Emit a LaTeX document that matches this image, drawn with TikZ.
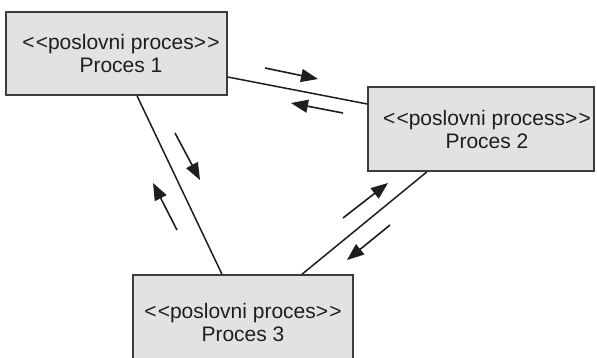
\documentclass[tikz,border=0pt]{standalone}
\usepackage{fontspec}
\setmainfont{Liberation Sans}
\usetikzlibrary{arrows.meta}
\definecolor{boxfill}{RGB}{226,226,228}
\definecolor{boxline}{RGB}{60,60,60}
\definecolor{ink}{RGB}{30,30,30}
\newcommand{\stereo}[1]{<\kern1.2pt<#1>\kern1.2pt>}
\begin{document}
\begin{tikzpicture}[x=1pt,y=-1pt,
  procbox/.style={draw=boxline, fill=boxfill, line width=1.5pt, rectangle,
    inner sep=0pt, align=center, text=ink,
    font=\fontsize{21}{23}\selectfont},
  link/.style={draw=ink, line width=1.5pt},
  flow/.style={draw=ink, line width=1.6pt,
    -{Triangle[length=17pt,width=13pt]}}]
  \useasboundingbox (0,0) rectangle (597,357);
  \clip (0,0) rectangle (597,357);
  \fill[white] (0,0) rectangle (597,357);

  % business process boxes
  \node[procbox, minimum width=221pt, minimum height=83pt] (b1) at (116.5,53.5)
    {\hspace*{9pt}\stereo{poslovni proces}\\\hspace*{9pt}Proces 1};
  \node[procbox, minimum width=226pt, minimum height=84pt] (b2) at (481,129)
    {\hspace*{12pt}\stereo{poslovni process}\\\hspace*{12pt}Proces 2};
  \node[procbox, minimum width=220pt, minimum height=94pt] (b3) at (243,322)
    {\stereo{poslovni proces}\\Proces 3};

  % connectors between the processes
  \draw[link] ([yshift=-23.5pt]b1.east) -- ([yshift=25pt]b2.west);
  \draw[link] ([xshift=20.5pt]b1.south) -- ([xshift=-21pt]b3.north);
  \draw[link] ([xshift=-54pt]b2.south) -- ([xshift=59pt]b3.north);

  % message flow arrows beside each connector
  \coordinate (f1s) at (265,68);  \coordinate (f1e) at (318,79);
  \coordinate (f2s) at (343,113); \coordinate (f2e) at (291,103);
  \coordinate (f3s) at (175,133); \coordinate (f3e) at (200,180);
  \coordinate (f4s) at (177,230); \coordinate (f4e) at (153,183);
  \coordinate (f5s) at (343,218); \coordinate (f5e) at (388,183);
  \coordinate (f6s) at (390,225); \coordinate (f6e) at (347,260);
  \draw[flow] (f1s) -- (f1e);
  \draw[flow] (f2s) -- (f2e);
  \draw[flow] (f3s) -- (f3e);
  \draw[flow] (f4s) -- (f4e);
  \draw[flow] (f5s) -- (f5e);
  \draw[flow] (f6s) -- (f6e);
\end{tikzpicture}
\end{document}
